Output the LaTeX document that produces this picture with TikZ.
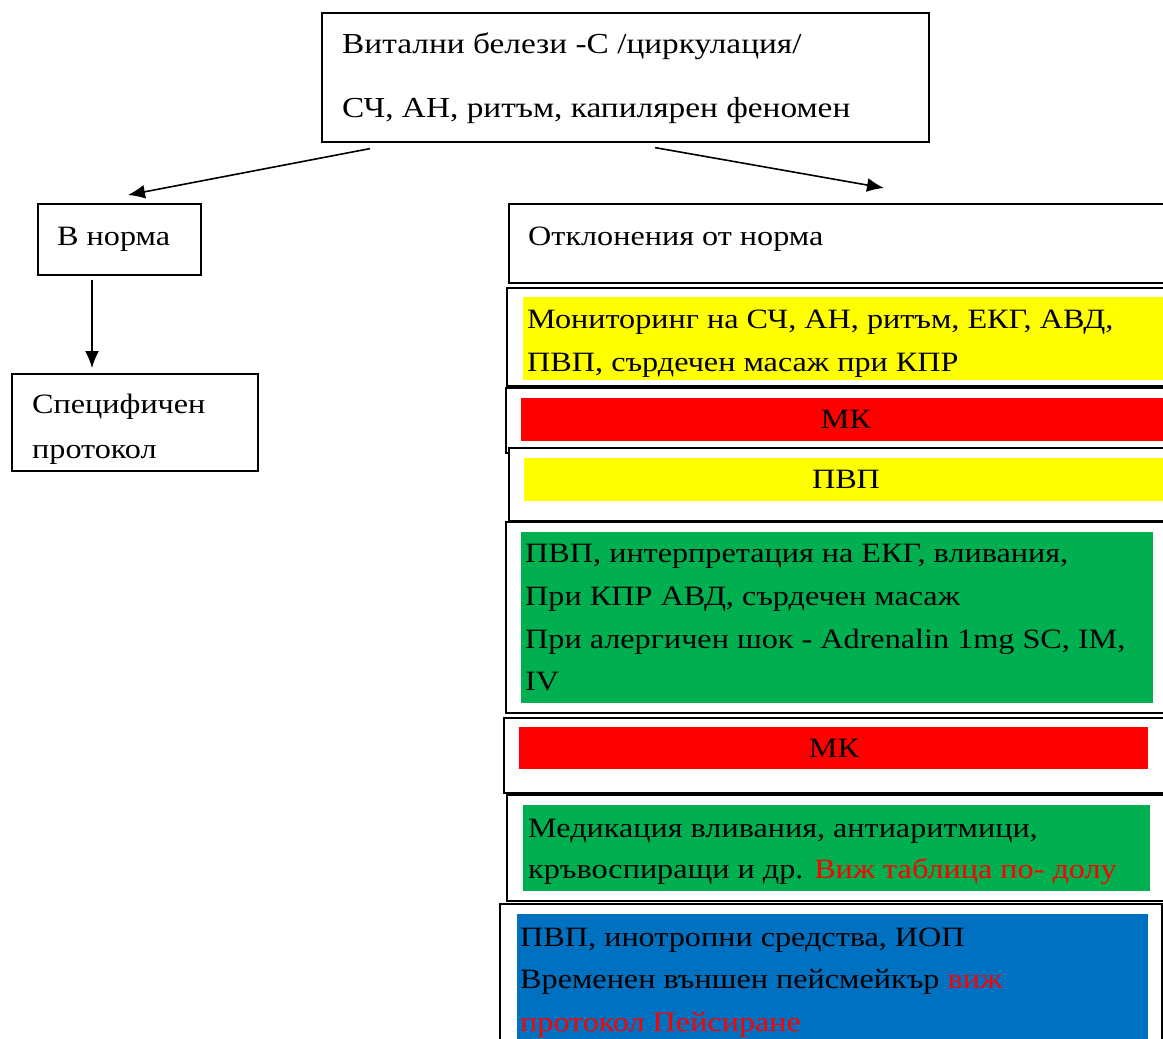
\documentclass[tikz,border=0pt]{standalone}
\usepackage{fontspec}
\setmainfont{Liberation Serif}[FakeStretch=1.15]
\usetikzlibrary{arrows.meta}
\definecolor{cyel}{HTML}{FFFF00}
\definecolor{cred}{HTML}{FF0000}
\definecolor{cgreen}{HTML}{00B050}
\definecolor{cblue}{HTML}{0070C0}
\tikzset{
  box/.style={draw=black, line width=1.6pt, fill=white, inner sep=0pt, anchor=north west},
  band/.style={inner sep=0pt, anchor=north west, draw=none},
  txt/.style={inner sep=0pt, anchor=base west, font=\fontsize{28}{43}\selectfont},
  bigtxt/.style={txt, font=\fontsize{29}{43}\selectfont},
  ctxt/.style={inner sep=0pt, anchor=base, font=\fontsize{28}{43}\selectfont},
  arr/.style={line width=1.6pt, -{Latex[length=17pt,width=14pt]}}
}
\begin{document}
\begin{tikzpicture}[x=1pt,y=-1pt]
\useasboundingbox (0,0) rectangle (1163,1039);
\clip (0,0) rectangle (1163,1039);
\fill[white] (0,0) rectangle (1163,1039);

% top box
\node[box, minimum width=607pt, minimum height=129pt] (top) at (321,12) {};
\node[bigtxt] (t1) at (342,53) {Витални белези -С /циркулация/};
\node[bigtxt] (t2) at (342,117) {СЧ, АН, ритъм, капилярен феномен};

% left branch
\node[box, minimum width=163pt, minimum height=71pt] (norm) at (37,203) {};
\node[txt] (normt) at (57,245) {В норма};
\node[box, minimum width=246pt, minimum height=97pt] (spec) at (11,373) {};
\node[txt] (spec1) at (32,413) {Специфичен};
\node[txt] (spec2) at (32,458) {протокол};

% right branch
\node[box, minimum width=672pt, minimum height=79pt] (dev) at (508,203) {};
\node[txt] (devt) at (528,245) {Отклонения от норма};

\node[box, minimum width=674pt, minimum height=98pt] (b2) at (506,287) {};
\node[band, fill=cyel, minimum width=657pt, minimum height=83pt] (f2) at (523,297) {};
\node[txt] (b2a) at (527,328) {Мониторинг на СЧ, АН, ритъм, ЕКГ, АВД,};
\node[txt] (b2b) at (527,371) {ПВП, сърдечен масаж при КПР};

\node[box, minimum width=675pt, minimum height=65pt] (b3) at (505,387) {};
\node[band, fill=cred, minimum width=659pt, minimum height=43pt] (f3) at (521,398) {};
\node[ctxt] (b3t) at (846,428) {МК};

\node[box, minimum width=672pt, minimum height=73pt] (b4) at (508,447) {};
\node[band, fill=cyel, minimum width=656pt, minimum height=43pt] (f4) at (524,458) {};
\node[ctxt] (b4t) at (846,488) {ПВП};

\node[box, minimum width=675pt, minimum height=191pt] (b5) at (505,521) {};
\node[band, fill=cgreen, minimum width=632pt, minimum height=171pt] (f5) at (521,532) {};
\node[txt] (b5a) at (525,562) {ПВП, интерпретация на ЕКГ, вливания,};
\node[txt] (b5b) at (525,605) {При КПР АВД, сърдечен масаж};
\node[txt] (b5c) at (525,648) {При алергичен шок - Adrenalin 1mg SC, IM,};
\node[txt] (b5d) at (525,690) {IV};

\node[box, minimum width=677pt, minimum height=75pt] (b6) at (503,717) {};
\node[band, fill=cred, minimum width=629pt, minimum height=42pt] (f6) at (519,727) {};
\node[ctxt] (b6t) at (834,757) {МК};

\node[box, minimum width=674pt, minimum height=106pt] (b7) at (506,794) {};
\node[band, fill=cgreen, minimum width=627pt, minimum height=86pt] (f7) at (523,805) {};
\node[txt] (b7a) at (528,837) {Медикация вливания, антиаритмици,};
\node[txt] (b7b) at (528,878) {кръвоспиращи и др. \textcolor{cred}{Виж таблица по- долу}};

\node[box, minimum width=662pt, minimum height=160pt] (b8) at (499,903) {};
\node[band, fill=cblue, minimum width=631pt, minimum height=150pt] (f8) at (517,914) {};
\node[txt] (b8a) at (520,946) {ПВП, инотропни средства, ИОП};
\node[txt] (b8b) at (520,988) {Временен външен пейсмейкър \textcolor{cred}{виж}};
\node[txt, text=cred] (b8c) at (520,1031) {протокол Пейсиране};

% connectors
\draw[arr] ([xshift=49pt,yshift=-6pt]top.south west) -- ([xshift=91pt,yshift=8pt]norm.north west);
\draw[arr] ([xshift=334pt,yshift=-5pt]top.south west) -- ([xshift=376pt,yshift=15pt]dev.north west);
\draw[arr] ([xshift=55pt,yshift=-4pt]norm.south west) -- ([xshift=81pt,yshift=5pt]spec.north west);
\end{tikzpicture}
\end{document}
